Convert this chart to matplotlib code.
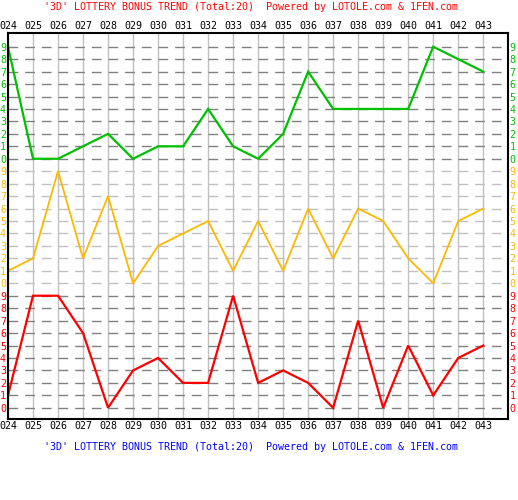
import numpy as np
import matplotlib
matplotlib.use("Agg")
import matplotlib.pyplot as plt

# issue numbers along the x axis
issues = ["024", "025", "026", "027", "028", "029", "030", "031", "032", "033",
          "034", "035", "036", "037", "038", "039", "040", "041", "042", "043"]

# digit values for each of the three bands (top -> bottom)
green_vals = [9, 0, 0, 1, 2, 0, 1, 1, 4, 1, 0, 2, 7, 4, 4, 4, 4, 9, 8, 7]
orange_vals = [1, 2, 9, 2, 7, 0, 3, 4, 5, 1, 5, 1, 6, 2, 6, 5, 2, 0, 5, 6]
red_vals = [1, 9, 9, 6, 0, 3, 4, 2, 2, 9, 2, 3, 2, 0, 7, 0, 5, 1, 4, 5]

digits = list(range(10))
title_text = "'3D' LOTTERY BONUS TREND (Total:20)  Powered by LOTOLE.com & 1FEN.com"

GREEN = "#00c000"
ORANGE = "#ffb800"
RED = "#ff0000"

# band offset, values, line colour, dashed grid colour
bands = [
    (20, green_vals, GREEN, "#808080"),
    (10, orange_vals, ORANGE, "#c0c0c0"),
    (0, red_vals, RED, "#808080"),
]

plt.rcParams["font.family"] = ["DejaVu Sans Mono"]
fs = 7.2

fig = plt.figure(figsize=(5.18, 5.00), dpi=100)
ax = fig.add_axes([8 / 518, 81 / 500, 499.5 / 518, 386 / 500])

x = np.arange(len(issues))

# vertical grid
for xi in x:
    ax.axvline(xi, color="#c0c0c0", lw=1.0, zorder=1)

yticks, ylabels, ycolors = [], [], []
for offset, vals, color, gridc in bands:
    for d in digits:
        ax.axhline(offset + d, color=gridc, lw=1.0, linestyle=(0, (7, 5)), zorder=1)
        yticks.append(offset + d)
        ylabels.append(str(d))
        ycolors.append(color)
    ax.plot(x, np.array(vals) + offset, color=color, lw=1.6 if color != ORANGE else 1.3,
            zorder=3, solid_joinstyle="miter")

ax.set_xlim(0, 19.97)
ax.set_ylim(-0.9, 30.1)

ax.set_xticks(x)
ax.set_xticklabels(issues, fontsize=fs)
ax.tick_params(axis="x", length=0, pad=1.5, top=True, labeltop=True)

ax.set_yticks(yticks)
ax.set_yticklabels(ylabels, fontsize=fs)
ax.tick_params(axis="y", length=0, pad=1.5, right=True, labelright=True)
for tick, c in zip(ax.yaxis.get_major_ticks(), ycolors):
    tick.label1.set_color(c)
    tick.label2.set_color(c)

for side in ["left", "right", "top", "bottom"]:
    ax.spines[side].set_color("black")
    ax.spines[side].set_linewidth(1.5)
    ax.spines[side].set_zorder(5)

fig.text(251.5 / 518, 1 - 7 / 500, title_text, color="red", fontsize=fs,
         ha="center", va="center")
fig.text(251.5 / 518, 1 - 447 / 500, title_text, color="#0000ff", fontsize=fs,
         ha="center", va="center")

fig.savefig("out.png", dpi=100)
